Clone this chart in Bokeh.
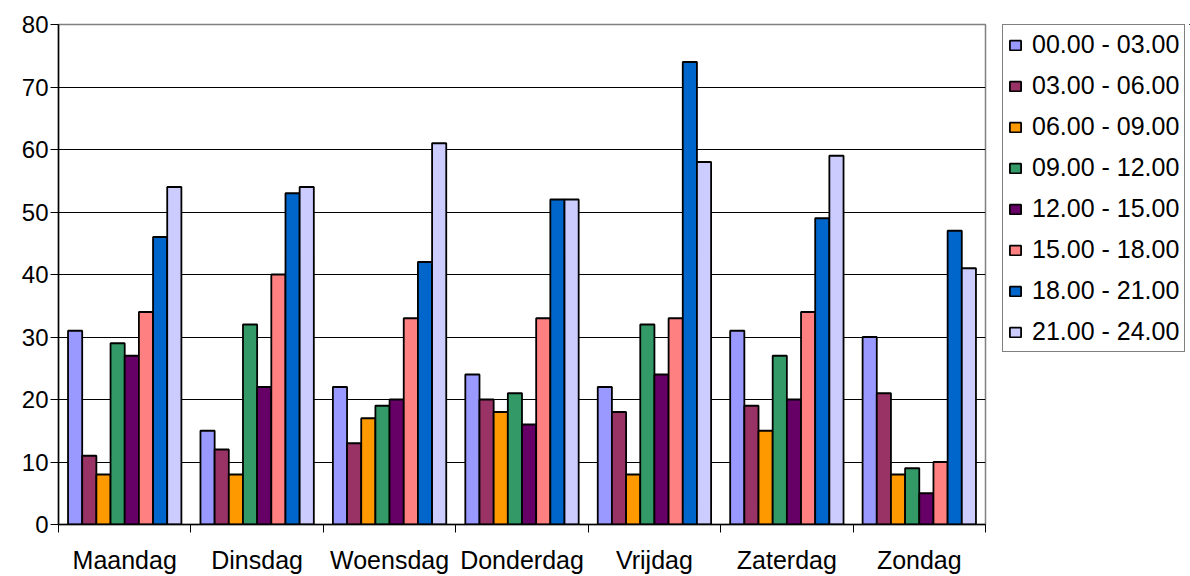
from bokeh.plotting import figure
from bokeh.models import Range1d, FixedTicker, Legend, LegendItem, ColumnDataSource
from bokeh.layouts import row
from bokeh.embed import file_html
from bokeh.resources import INLINE

days = ["Maandag", "Dinsdag", "Woensdag", "Donderdag", "Vrijdag", "Zaterdag", "Zondag"]
series_names = ["00.00 - 03.00", "03.00 - 06.00", "06.00 - 09.00", "09.00 - 12.00",
                "12.00 - 15.00", "15.00 - 18.00", "18.00 - 21.00", "21.00 - 24.00"]
s0003 = [31, 15, 22, 24, 22, 31, 30]
s0306 = [11, 12, 13, 20, 18, 19, 21]
s0609 = [8, 8, 17, 18, 8, 15, 8]
s0912 = [29, 32, 19, 21, 32, 27, 9]
s1215 = [27, 22, 20, 16, 24, 20, 5]
s1518 = [34, 40, 33, 33, 33, 34, 10]
s1821 = [46, 53, 42, 52, 74, 49, 47]
s2124 = [54, 54, 61, 52, 58, 59, 41]
series_values = [s0003, s0306, s0609, s0912, s1215, s1518, s1821, s2124]
colors = ["#9999FF", "#993366", "#FF9900", "#339966", "#660066", "#FF8080", "#0066CC", "#CCCCFF"]
y_ticks = [0, 10, 20, 30, 40, 50, 60, 70, 80]

FONT = "Liberation Sans"

p = figure(width=1001, height=576, output_backend="svg", toolbar_location=None,
           x_range=Range1d(0, len(days)), y_range=Range1d(0, 80),
           min_border_left=58, min_border_right=16, min_border_top=24, min_border_bottom=49)
p.background_fill_color = "white"
p.border_fill_color = "white"
p.outline_line_color = "#808080"
p.outline_line_width = 1.5

bw = 0.107
for i, (name, vals, c) in enumerate(zip(series_names, series_values, colors)):
    xs = [d + 0.5 + (i - 3.5) * bw for d in range(len(days))]
    src = ColumnDataSource(dict(x=xs, top=vals))
    p.vbar(x="x", top="top", bottom=0, width=bw, source=src,
           fill_color=c, line_color="black", line_width=1.8)

# Axes
p.xgrid.visible = False
p.ygrid.grid_line_color = "black"
p.ygrid.grid_line_width = 1
p.yaxis.ticker = FixedTicker(ticks=y_ticks)
p.yaxis.axis_line_color = "black"
p.yaxis.axis_line_width = 1.5
p.yaxis.major_tick_line_color = "black"
p.yaxis.major_tick_out = 8
p.yaxis.major_tick_in = 0
p.yaxis.minor_tick_line_color = None
p.yaxis.major_label_text_font = FONT
p.yaxis.major_label_text_font_size = "24px"
p.yaxis.major_label_text_color = "black"
p.yaxis.major_label_standoff = 2

centers = [d + 0.5 for d in range(len(days))]
p.xaxis.ticker = FixedTicker(ticks=centers, minor_ticks=list(range(len(days) + 1)))
p.xaxis.major_label_overrides = {c: d for c, d in zip(centers, days)}
p.xaxis.major_tick_line_color = None
p.xaxis.major_tick_out = 8
p.xaxis.major_tick_in = 0
p.xaxis.minor_tick_line_color = "black"
p.xaxis.minor_tick_out = 8
p.xaxis.minor_tick_in = 0
p.xaxis.axis_line_color = "black"
p.xaxis.axis_line_width = 1.5
p.xaxis.major_label_text_font = FONT
p.xaxis.major_label_text_font_size = "25px"
p.xaxis.major_label_text_color = "black"
p.xaxis.major_label_standoff = 13

# Legend panel (separate figure so it is not clipped by the plot area)
lp = figure(width=189, height=576, output_backend="svg", toolbar_location=None,
            x_axis_location=None, y_axis_location=None,
            x_range=Range1d(0, 1), y_range=Range1d(0, 1),
            min_border_left=1, min_border_right=0, min_border_top=23, min_border_bottom=0)
lp.outline_line_color = None
lp.grid.visible = False
lp.border_fill_color = "white"
items = []
for name, c in zip(series_names, colors):
    # legend proxy glyph, placed entirely outside the visible ranges
    r = lp.vbar(x=[50], top=[51], bottom=[50], width=0.1,
                fill_color=c, line_color="black", line_width=1.8)
    items.append(LegendItem(label=name, renderers=[r]))

legend = Legend(items=items, location="top_left")
legend.label_text_font = FONT
legend.label_text_font_size = "25px"
legend.label_text_color = "black"
legend.label_height = 26
legend.glyph_height = 12
legend.glyph_width = 14
legend.spacing = 12
legend.padding = 5
legend.margin = 0
legend.label_standoff = 10
legend.border_line_color = "black"
legend.border_line_width = 1
legend.background_fill_color = "white"
legend.background_fill_alpha = 1
lp.add_layout(legend, "center")

layout = row(p, lp, spacing=0)
open("out.html", "w").write(file_html(layout, INLINE))
